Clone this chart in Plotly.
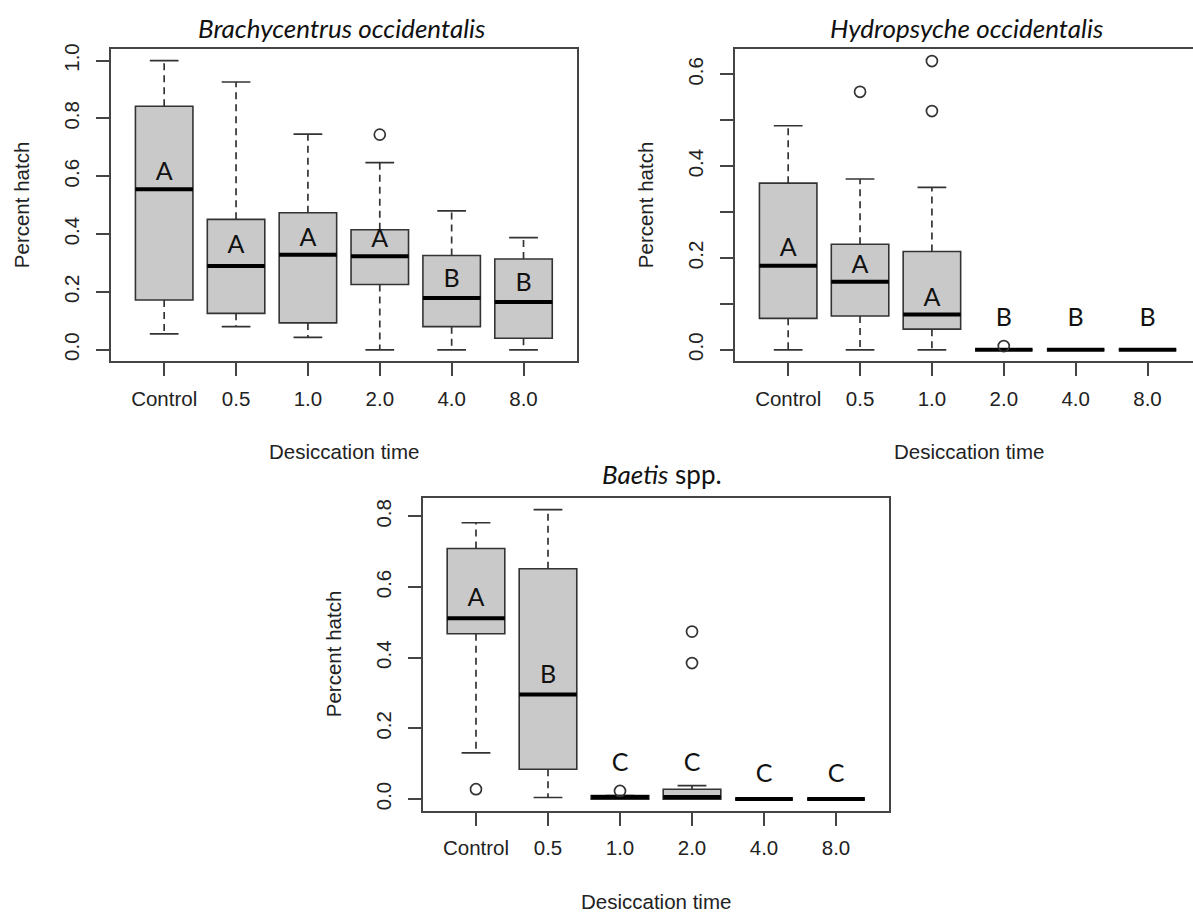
import plotly.graph_objects as go

W, H = 1193, 913

categories = ["Control", "0.5", "1.0", "2.0", "4.0", "8.0"]
positions = [1, 2, 3, 4, 5, 6]

# Brachycentrus occidentalis
brach_q1 = [0.172, 0.126, 0.093, 0.226, 0.080, 0.040]
brach_med = [0.555, 0.290, 0.329, 0.323, 0.179, 0.165]
brach_q3 = [0.842, 0.451, 0.474, 0.415, 0.326, 0.314]
brach_lo = [0.055, 0.080, 0.043, 0.0, 0.0, 0.0]
brach_hi = [1.0, 0.926, 0.746, 0.647, 0.480, 0.388]
brach_out_x = [4]
brach_out_y = [0.744]
brach_letters = ["A", "A", "A", "A", "B", "B"]
brach_letter_y = [0.607, 0.357, 0.381, 0.377, 0.238, 0.226]

# Hydropsyche occidentalis
hydro_q1 = [0.0685, 0.0735, 0.045, 0.0, 0.0, 0.0]
hydro_med = [0.183, 0.148, 0.077, 0.0, 0.0, 0.0]
hydro_q3 = [0.363, 0.230, 0.214, 0.0, 0.0, 0.0]
hydro_lo = [0.0, 0.0, 0.0, 0.0, 0.0, 0.0]
hydro_hi = [0.488, 0.372, 0.354, 0.0, 0.0, 0.0]
hydro_out_x = [2, 3, 3, 4]
hydro_out_y = [0.562, 0.629, 0.520, 0.008]
hydro_letters = ["A", "A", "A", "B", "B", "B"]
hydro_letter_y = [0.217, 0.181, 0.110, 0.065, 0.065, 0.065]

# Baetis spp.
baetis_q1 = [0.468, 0.0845, 0.0, 0.0, 0.0, 0.0]
baetis_med = [0.512, 0.296, 0.006, 0.006, 0.0, 0.0]
baetis_q3 = [0.709, 0.652, 0.010, 0.028, 0.0, 0.0]
baetis_lo = [0.131, 0.0045, 0.0, 0.0, 0.0, 0.0]
baetis_hi = [0.782, 0.819, 0.010, 0.038, 0.0, 0.0]
baetis_out_x = [1, 3, 4, 4]
baetis_out_y = [0.028, 0.023, 0.474, 0.385]
baetis_letters = ["A", "B", "C", "C", "C", "C"]
baetis_letter_y = [0.565, 0.345, 0.0985, 0.0985, 0.066, 0.066]

FILL = "#C9C9C9"
EDGE = "#333333"
FRAME = "#444444"
BOXW = 0.8
CAPW = 0.4

fig = go.Figure()


def add_panel(n, q1, med, q3, lo, hi, ox, oy, letters, ly):
    xa = "x" if n == 1 else f"x{n}"
    ya = "y" if n == 1 else f"y{n}"
    fig.add_trace(go.Box(
        x=positions, q1=q1, median=med, q3=q3, lowerfence=q1, upperfence=q3,
        width=BOXW, fillcolor=FILL, line=dict(color=EDGE, width=1.6),
        boxpoints=False, whiskerwidth=0, xaxis=xa, yaxis=ya, showlegend=False,
        hoverinfo="skip"))
    wx, wy = [], []
    cx, cy = [], []
    mx, my = [], []
    for p, a, b, c, d, m in zip(positions, q1, q3, lo, hi, med):
        if b < d:
            wx += [p, p, None]
            wy += [b, d, None]
        if c < a:
            wx += [p, p, None]
            wy += [a, c, None]
        cx += [p - CAPW / 2, p + CAPW / 2, None, p - CAPW / 2, p + CAPW / 2, None]
        cy += [d, d, None, c, c, None]
        mx += [p - BOXW / 2, p + BOXW / 2, None]
        my += [m, m, None]
    fig.add_trace(go.Scatter(x=wx, y=wy, mode="lines",
                             line=dict(color=EDGE, width=1.7, dash="7px,5px"),
                             xaxis=xa, yaxis=ya, showlegend=False, hoverinfo="skip"))
    fig.add_trace(go.Scatter(x=cx, y=cy, mode="lines",
                             line=dict(color=EDGE, width=1.7),
                             xaxis=xa, yaxis=ya, showlegend=False, hoverinfo="skip"))
    fig.add_trace(go.Scatter(x=mx, y=my, mode="lines",
                             line=dict(color="#000000", width=4),
                             xaxis=xa, yaxis=ya, showlegend=False, hoverinfo="skip"))
    fig.add_trace(go.Scatter(x=ox, y=oy, mode="markers",
                             marker=dict(symbol="circle-open", size=11,
                                         color=EDGE, line=dict(width=1.7, color=EDGE)),
                             xaxis=xa, yaxis=ya, showlegend=False, hoverinfo="skip"))
    fig.add_trace(go.Scatter(x=positions, y=ly, mode="text", text=letters,
                             textfont=dict(family="Lato", size=25, color="#111111"),
                             xaxis=xa, yaxis=ya, showlegend=False, hoverinfo="skip"))


add_panel(1, brach_q1, brach_med, brach_q3, brach_lo, brach_hi,
          brach_out_x, brach_out_y, brach_letters, brach_letter_y)
add_panel(2, hydro_q1, hydro_med, hydro_q3, hydro_lo, hydro_hi,
          hydro_out_x, hydro_out_y, hydro_letters, hydro_letter_y)
add_panel(3, baetis_q1, baetis_med, baetis_q3, baetis_lo, baetis_hi,
          baetis_out_x, baetis_out_y, baetis_letters, baetis_letter_y)

TICKFONT = dict(family="Liberation Sans", size=20.5, color="#222222")


def xaxis_cfg(left, right, rng, mirror=True):
    return dict(domain=[left / W, right / W], range=rng,
                tickmode="array", tickvals=positions, ticktext=categories,
                ticks="outside", ticklen=13, tickwidth=1.5, tickcolor=FRAME,
                showline=True, linecolor=FRAME, linewidth=2, mirror=mirror,
                showgrid=False, zeroline=False, tickfont=TICKFONT,
                ticklabelstandoff=5, fixedrange=True)


def yaxis_cfg(top, bottom, rng, tv, tt, mirror=True):
    return dict(domain=[(H - bottom) / H, (H - top) / H], range=rng,
                tickmode="array", tickvals=tv, ticktext=tt, tickangle=-90,
                ticks="outside", ticklen=13, tickwidth=1.5, tickcolor=FRAME,
                showline=True, linecolor=FRAME, linewidth=2, mirror=mirror,
                showgrid=False, zeroline=False, tickfont=TICKFONT,
                ticklabelstandoff=9, fixedrange=True)


y1_ticks = [0.0, 0.2, 0.4, 0.6, 0.8, 1.0]
y1_text = ["0.0", "0.2", "0.4", "0.6", "0.8", "1.0"]
y2_ticks = [0.0, 0.1, 0.2, 0.3, 0.4, 0.5, 0.6]
y2_text = ["0.0", "", "0.2", "", "0.4", "", "0.6"]
y3_ticks = [0.0, 0.2, 0.4, 0.6, 0.8]
y3_text = ["0.0", "0.2", "0.4", "0.6", "0.8"]

p1 = (111, 576.7, 43.3, 357.7)
p2 = (735, 1193, 43.3, 357.7)
p3 = (422.7, 889.3, 495, 810)
sp = (576.7 - 111) / 6.48
x2_max = 0.26 + (1193 - 735) / sp

fig.update_layout(
    width=W, height=H, margin=dict(l=0, r=0, t=0, b=0),
    paper_bgcolor="white", plot_bgcolor="white", showlegend=False,
    xaxis=xaxis_cfg(p1[0], p1[1], [0.26, 6.74]),
    yaxis=yaxis_cfg(p1[2], p1[3], [-0.04, 1.04], y1_ticks, y1_text),
    xaxis2=dict(xaxis_cfg(p2[0], p2[1], [0.26, x2_max]), anchor="y2"),
    yaxis2=dict(yaxis_cfg(p2[2], p2[3], [-0.0252, 0.6552], y2_ticks, y2_text, mirror=False), anchor="x2"),
    xaxis3=dict(xaxis_cfg(p3[0], p3[1], [0.26, 6.74]), anchor="y3"),
    yaxis3=dict(yaxis_cfg(p3[2], p3[3], [-0.0328, 0.8528], y3_ticks, y3_text), anchor="x3"),
)

LABFONT = dict(family="Liberation Sans", size=20.5, color="#222222")
TITLEFONT = dict(family="Lato", size=26, color="#111111")

annots = []
annots.append(dict(text="<i>Brachycentrus occidentalis</i>", x=342 / W, y=1 - 22 / H,
                   font=TITLEFONT))
annots.append(dict(text="<i>Hydropsyche occidentalis</i>", x=966 / W, y=1 - 22 / H,
                   font=TITLEFONT))
annots.append(dict(text="<i>Baetis</i> spp.", x=662 / W, y=1 - 471 / H,
                   font=TITLEFONT))
for cx, cy in [(344, 448), (969, 448), (656, 901)]:
    annots.append(dict(text="Desiccation time", x=cx / W, y=1 - cy / H, font=LABFONT))
for cx, cy in [(21, 200.5), (645, 200.5), (333, 652.5)]:
    annots.append(dict(text="Percent hatch", x=cx / W, y=1 - cy / H, font=LABFONT,
                       textangle=-90))
for a in annots:
    a.update(xref="paper", yref="paper", xanchor="center", yanchor="middle",
             showarrow=False)
fig.update_layout(annotations=annots)

fig.write_html("out.html")
